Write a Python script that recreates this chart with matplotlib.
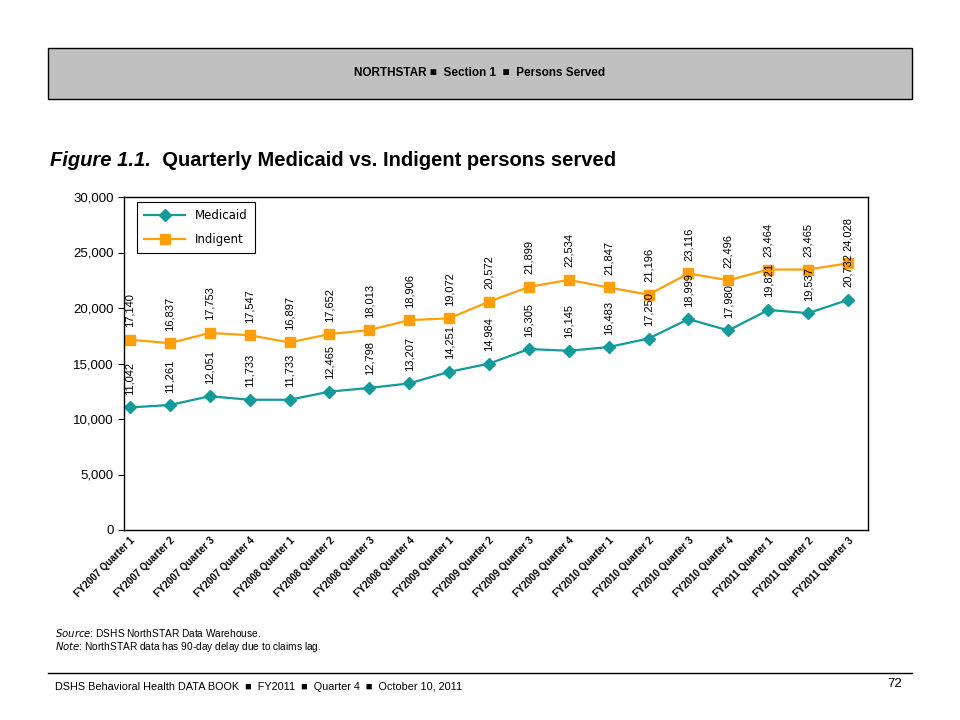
import matplotlib.pyplot as plt
from matplotlib.patches import Rectangle
from matplotlib.lines import Line2D
from matplotlib.transforms import ScaledTranslation

plt.rcParams['font.family'] = ['Liberation Sans', 'DejaVu Sans']

quarters = ['FY2007 Quarter 1', 'FY2007 Quarter 2', 'FY2007 Quarter 3', 'FY2007 Quarter 4',
            'FY2008 Quarter 1', 'FY2008 Quarter 2', 'FY2008 Quarter 3', 'FY2008 Quarter 4',
            'FY2009 Quarter 1', 'FY2009 Quarter 2', 'FY2009 Quarter 3', 'FY2009 Quarter 4',
            'FY2010 Quarter 1', 'FY2010 Quarter 2', 'FY2010 Quarter 3', 'FY2010 Quarter 4',
            'FY2011 Quarter 1', 'FY2011 Quarter 2', 'FY2011 Quarter 3']
medicaid = [11042, 11261, 12051, 11733, 11733, 12465, 12798, 13207, 14251, 14984,
            16305, 16145, 16483, 17250, 18999, 17980, 19821, 19537, 20732]
indigent = [17140, 16837, 17753, 17547, 16897, 17652, 18013, 18906, 19072, 20572,
            21899, 22534, 21847, 21196, 23116, 22496, 23464, 23465, 24028]

teal = '#139a9a'
orange = '#ff9f0a'

fig = plt.figure(figsize=(9.6, 7.2), dpi=100)

# header band
fig.patches.append(Rectangle((48 / 960, 1 - 99 / 720), 864 / 960, 51 / 720,
                             transform=fig.transFigure, facecolor='#c0c0c0',
                             edgecolor='black', linewidth=1))
fig.text(0.5, 1 - 73 / 720, 'NORTHSTAR \u25a0  Section 1  \u25a0  Persons Served',
         ha='center', va='center', fontsize=8.5, fontweight='bold')

ax = fig.add_axes([124 / 960, 1 - 530 / 720, 744 / 960, 333 / 720])

# title
t1 = fig.text(50 / 960, 1 - 160 / 720, 'Figure 1.1.', fontsize=14.5, fontweight='bold',
              fontstyle='italic', va='center')
ax.annotate('  Quarterly Medicaid vs. Indigent persons served', xy=(1, 0.5),
            xycoords=t1, va='center', ha='left', fontsize=14.5, fontweight='bold',
            annotation_clip=False)

x = list(range(len(quarters)))
ax.plot(x, medicaid, color=teal, marker='D', markersize=6, linewidth=1.6, label='Medicaid')
ax.plot(x, indigent, color=orange, marker='s', markersize=7, linewidth=1.6, label='Indigent')

for xi, v in zip(x, medicaid):
    ax.annotate(f'{v:,}', (xi, v), xytext=(0, 9), textcoords='offset points',
                rotation=90, ha='center', va='bottom', fontsize=8)
for xi, v in zip(x, indigent):
    ax.annotate(f'{v:,}', (xi, v), xytext=(0, 9), textcoords='offset points',
                rotation=90, ha='center', va='bottom', fontsize=8)

ax.set_ylim(0, 30000)
ax.set_yticks(range(0, 30001, 5000))
ax.set_yticklabels([f'{v:,}' for v in range(0, 30001, 5000)], fontsize=9.5)
ax.set_xlim(-0.15, 18.5)
ax.set_xticks(x)
ax.set_xticklabels(quarters, rotation=45, ha='right', rotation_mode='anchor', fontsize=7,
                   fontweight='bold')
shift = ScaledTranslation(-20 / 100, -4 / 100, fig.dpi_scale_trans)
for lab in ax.get_xticklabels():
    lab.set_transform(lab.get_transform() + shift)
ax.tick_params(axis='x', length=0, pad=4)
ax.tick_params(axis='y', length=4, direction='out')
for s in ax.spines.values():
    s.set_linewidth(1)
    s.set_color('black')

leg = ax.legend(loc='upper left', bbox_to_anchor=(0.0175, 0.985), borderaxespad=0,
                fancybox=False, edgecolor='black', fontsize=8.5, handlelength=3.5,
                framealpha=1, labelspacing=0.9, borderpad=0.6)
leg.get_frame().set_linewidth(0.8)
for tx in leg.get_texts():
    tx.set_family(['DejaVu Sans'])

# source notes
fig.text(55 / 960, 1 - 633 / 720, r'$\it{Source}$: DSHS NorthSTAR Data Warehouse.',
         fontsize=7.3, va='center')
fig.text(55 / 960, 1 - 647 / 720, r'$\it{Note}$: NorthSTAR data has 90-day delay due to claims lag.',
         fontsize=7.3, va='center')

fig.lines.append(Line2D([48 / 960, 912 / 960], [1 - 673 / 720, 1 - 673 / 720],
                        transform=fig.transFigure, color='black', linewidth=1))
fig.text(55 / 960, 1 - 687 / 720,
         'DSHS Behavioral Health DATA BOOK  \u25a0  FY2011  \u25a0  Quarter 4  \u25a0  October 10, 2011',
         fontsize=7.8, va='center')
fig.text(902 / 960, 1 - 684 / 720, '72', fontsize=9.5, va='center', ha='right')

fig.savefig('out.png', dpi=100)
